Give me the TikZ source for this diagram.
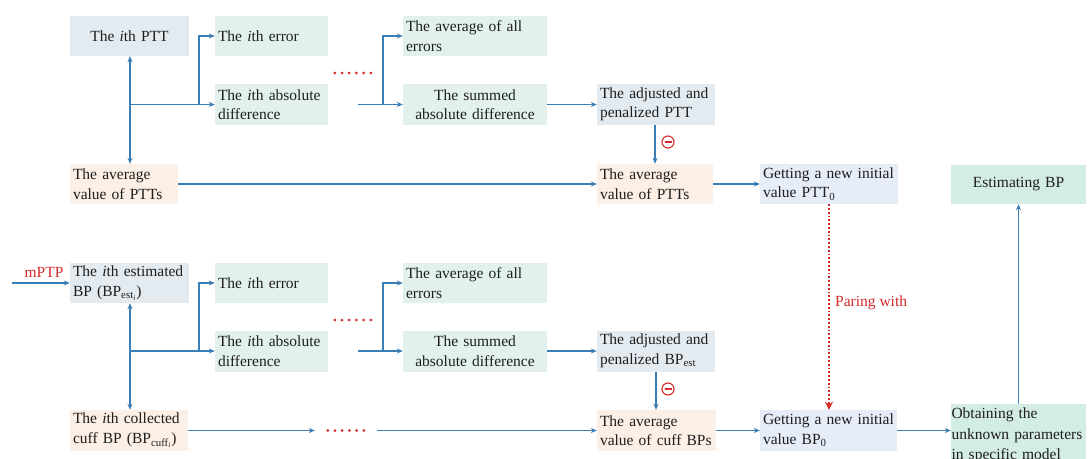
\documentclass[tikz,border=0pt]{standalone}
\usepackage{fontspec}
\setmainfont{Liberation Serif}
\usetikzlibrary{arrows.meta}
\definecolor{arr}{HTML}{3A7DB4}
\definecolor{redc}{HTML}{D42A2A}
\definecolor{txt}{HTML}{1E1E1E}
\definecolor{cBlue}{HTML}{E3EBF1}
\definecolor{cGreen}{HTML}{E2F1ED}
\definecolor{cOrange}{HTML}{FCEFE5}
\definecolor{cGet}{HTML}{E6EDF8}
\definecolor{cTeal}{HTML}{D3EDE4}
\hyphenpenalty=10000
\exhyphenpenalty=10000
\tikzset{
  box/.style={draw=none, inner xsep=3pt, inner ysep=0pt, align=left, text=txt},
  ar/.style={draw=arr, line width=1.2pt, -{Stealth[length=6pt,width=5pt]}},
  dar/.style={draw=arr, line width=1.2pt, {Stealth[length=6pt,width=5pt]}-{Stealth[length=6pt,width=5pt]}},
  pair/.style={draw=redc, line width=1.8pt, dotted, -{Stealth[length=8pt,width=8pt]}, redc},
  dotsbox/.style={draw=none, minimum width=44pt, minimum height=6pt, inner sep=0pt},
  minus/.style={circle, draw=redc, line width=1.1pt, minimum width=12pt, minimum height=12pt, inner sep=0pt},
}
\newcommand{\reddots}[1]{\foreach \k in {0,...,5}{\fill[redc] ([xshift={4+7.2*\k}]#1.west) circle (1.5);}}
\newcommand{\minusbar}[1]{\draw[redc, line width=1.3pt] ([xshift=-3.5]#1.center) -- ([xshift=3.5]#1.center);}
\begin{document}
\begin{tikzpicture}[x=1pt, y=-1pt, font=\fontsize{15.5}{19.5}\selectfont]
\useasboundingbox (0,0) rectangle (1092,458);
\fill[white] (0,0) rectangle (1092,458);

% ---------- Row 1 ----------
\node[box, fill=cBlue, text width=113pt, minimum height=40pt, align=center] (ptt) at (129.5,36) {The~\textit{i}th~PTT};
\node[box, fill=cGreen, text width=107pt, minimum height=40pt] (err1) at (271.5,36) {The~\textit{i}th~error};
\node[box, fill=cGreen, text width=107pt, minimum height=41pt] (abs1) at (271.5,104.5) {The~\textit{i}th~absolute\\difference};
\node[box, fill=cGreen, text width=138pt, minimum height=40pt] (avgerr1) at (475,36) {The~average~of~all\\errors};
\node[box, fill=cGreen, text width=138pt, minimum height=41pt, align=center] (sum1) at (475,104.5) {The~summed\\absolute~difference};
\node[box, fill=cBlue, text width=112pt, minimum height=41pt] (adj1) at (656,104.5) {The~adjusted~and\\penalized~PTT};
\node[box, fill=cOrange, text width=102pt, minimum height=40pt] (avgL1) at (124,184) {The~average\\value~of~PTTs};
\node[box, fill=cOrange, text width=110pt, minimum height=40pt] (avgR1) at (655,184) {The~average\\value~of~PTTs};
\node[box, fill=cGet, text width=132pt, minimum height=40pt] (get1) at (829,184) {Getting~a~new~initial\\value~PTT\textsubscript{0}};
\node[box, fill=cTeal, text width=129pt, minimum height=39pt, align=center] (est) at (1018.5,184.5) {Estimating~BP};
\node[dotsbox] (d1) at (353,73) {};
\node[minus] (m1) at (668,142) {};

\coordinate (v1) at (130,104.5);
\coordinate (j1) at (199,104.5);
\coordinate (s1) at (358,104.5);
\coordinate (k1) at (383,104.5);
\draw[dar] (ptt.south -| v1) -- (avgL1.north -| v1);
\draw[ar] (v1) -- (abs1.west);
\draw[ar] (j1) |- (err1.west);
\draw[ar] (s1) -- (sum1.west);
\draw[ar] (k1) |- (avgerr1.west);
\draw[ar] (sum1.east) -- (adj1.west);
\draw[ar] (adj1.south -| avgR1.north) -- (avgR1.north);
\draw[ar] (avgL1.east) -- (avgR1.west);
\draw[ar] (avgR1.east) -- (get1.west);
\reddots{d1}
\minusbar{m1}

% ---------- Row 2 ----------
\node[box, fill=cBlue, text width=113pt, minimum height=40pt] (estbp) at (129.5,283) {The~\textit{i}th~estimated\\BP~(BP\textsubscript{est\textsubscript{\textit{i}}})};
\node[box, fill=cGreen, text width=107pt, minimum height=40pt] (err2) at (271.5,283) {The~\textit{i}th~error};
\node[box, fill=cGreen, text width=107pt, minimum height=41pt] (abs2) at (271.5,351) {The~\textit{i}th~absolute\\difference};
\node[box, fill=cGreen, text width=138pt, minimum height=40pt] (avgerr2) at (475,283) {The~average~of~all\\errors};
\node[box, fill=cGreen, text width=138pt, minimum height=41pt, align=center] (sum2) at (475,351) {The~summed\\absolute~difference};
\node[box, fill=cBlue, text width=112pt, minimum height=41pt] (adj2) at (656,351) {The~adjusted~and\\penalized~BP\textsubscript{est}};
\node[box, fill=cOrange, text width=112pt, minimum height=41pt] (cuff) at (129,430.5) {The~\textit{i}th~collected\\cuff~BP~(BP\textsubscript{cuff\textsubscript{\textit{i}}})};
\node[box, fill=cOrange, text width=113pt, minimum height=41pt] (avgR2) at (656.5,430.5) {The~average\\value~of~cuff~BPs};
\node[box, fill=cGet, text width=131pt, minimum height=41pt] (get2) at (828.5,430.5) {Getting~a~new~initial\\value~BP\textsubscript{0}};
\node[box, fill=cTeal, text width=134pt, inner xsep=0.5pt, inner ysep=4pt, anchor=north, font=\fontsize{15.5}{20.5}\selectfont] (obt) at (1018.5,404) {Obtaining~the\\unknown~parameters\\in~specific~model};
\node[dotsbox] (d2) at (353,320) {};
\node[dotsbox, minimum width=62pt] (d3) at (346,430.5) {};
\node[minus] (m2) at (668,389) {};
\node[text=redc, inner sep=0pt] (mptp) at (44,272) {mPTP};
\coordinate (in) at (12,283);

\coordinate (v2) at (130,351);
\coordinate (j2) at (199,351);
\coordinate (s2) at (358,351);
\coordinate (k2) at (383,351);
\draw[ar] (in) -- (estbp.west);
\draw[dar] (estbp.south -| v2) -- (cuff.north -| v2);
\draw[ar] (v2) -- (abs2.west);
\draw[ar] (j2) |- (err2.west);
\draw[ar] (s2) -- (sum2.west);
\draw[ar] (k2) |- (avgerr2.west);
\draw[ar] (sum2.east) -- (adj2.west);
\draw[ar] (adj2.south) -- (adj2.south |- avgR2.north);
\draw[ar] (cuff.east) -- (d3.west);
\draw[ar] (d3.east) -- (avgR2.west);
\draw[ar] (avgR2.east) -- (get2.west);
\draw[ar] (get2.east) -- (obt.west |- get2.east);
\draw[ar] (obt.north) -- (est.south);
\foreach \k in {0,...,5}{\fill[redc] ([xshift={13+7.2*\k}]d3.west) circle (1.5);}
\reddots{d2}
\minusbar{m2}

% ---------- Pairing ----------
\draw[pair] (get1.south) -- (get1.south |- get2.north);
\node[text=redc, anchor=west, inner sep=0pt] (pw) at (835,303) {Paring~with};
\end{tikzpicture}
\end{document}
